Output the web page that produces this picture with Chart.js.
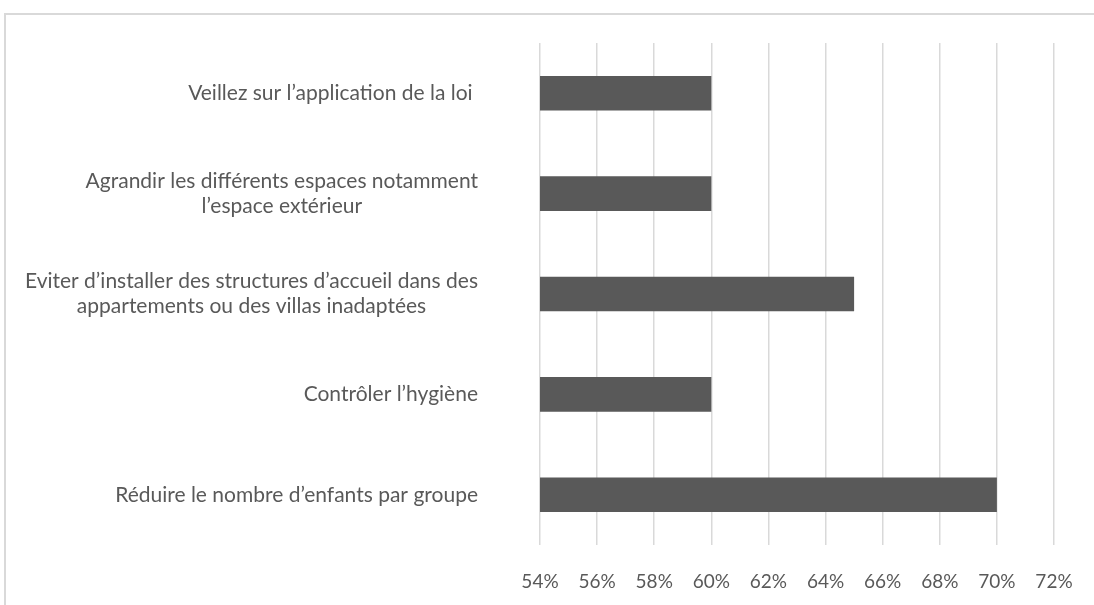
<!DOCTYPE html>
<html>
<head>
<meta charset="utf-8">
<script src="https://cdn.jsdelivr.net/npm/chart.js@4/dist/chart.umd.min.js"></script>
<style>
  html, body { margin: 0; padding: 0; background: #ffffff; }
  #wrap { position: relative; width: 1094px; height: 605px; overflow: hidden; }
  #frame {
    position: absolute; left: 4px; top: 13px; width: 1200px; height: 700px;
    border-top: 2px solid #d9d9d9; border-left: 2px solid #d9d9d9;
  }
  #chart { position: absolute; left: 0; top: 0; }
</style>
</head>
<body>
<div id="wrap">
  <div id="frame"></div>
  <canvas id="chart" width="1094" height="605"></canvas>
</div>
<script>
// category labels, already split into the lines they are shown on
const categories = [
    ["Veillez sur l’application de la loi "],
    ["Agrandir les différents espaces notamment", "l’espace extérieur"],
    ["Eviter d’installer des structures d’accueil dans des", "appartements ou des villas inadaptées"],
    ["Contrôler l’hygiène"],
    ["Réduire le nombre d’enfants par groupe"]
];
const values = [60, 60, 65, 60, 70];
const axisMin = 54;
const axisMax = 72;
const axisStep = 2;

const textColor = "#595959";
const labelFont = "21px Lato";

// y labels: each block sits right-aligned, lines centred inside the block
const categoryLabels = {
    id: "categoryLabels",
    afterDraw(chart) {
        const ctx = chart.ctx;
        const yScale = chart.scales.y;
        const lineHeight = 25;
        const rightEdge = yScale.right - 62;

        ctx.save();
        ctx.font = labelFont;
        ctx.fillStyle = textColor;
        ctx.textAlign = "center";
        ctx.textBaseline = "middle";

        categories.forEach((lines, i) => {
            const y = yScale.getPixelForTick(i);
            const blockW = Math.max(...lines.map(l => ctx.measureText(l).width));
            const cx = rightEdge - blockW / 2;
            const y0 = y - (lines.length - 1) * lineHeight / 2;
            lines.forEach((line, j) => ctx.fillText(line, cx, y0 + j * lineHeight));
        });
        ctx.restore();
    }
};

new Chart(document.getElementById("chart").getContext("2d"), {
    type: "bar",
    data: {
        labels: categories,
        datasets: [{
            data: values,
            backgroundColor: "#595959",
            borderWidth: 0,
            barPercentage: 0.345,
            categoryPercentage: 1
        }]
    },
    options: {
        indexAxis: "y",
        responsive: false,
        animation: false,
        layout: {
            padding: { top: 43, right: 40, bottom: 0, left: 0 }
        },
        scales: {
            x: {
                min: axisMin,
                max: axisMax,
                border: { display: false },
                grid: {
                    color: "#d9d9d9",
                    lineWidth: 1.5,
                    drawTicks: false
                },
                ticks: {
                    stepSize: axisStep,
                    padding: 25,
                    color: textColor,
                    font: { family: "Lato", size: 19 },
                    callback: v => v + "%"
                },
                afterFit(scale) {
                    // plot area edges come from the layout padding only
                    scale.height = 60;
                    scale.paddingLeft = 0;
                    scale.paddingRight = 0;
                }
            },
            y: {
                border: { display: false },
                grid: { display: false },
                ticks: { display: false },
                afterFit(scale) {
                    scale.width = 540;
                }
            }
        },
        plugins: {
            legend: { display: false },
            tooltip: { enabled: false }
        }
    },
    plugins: [categoryLabels]
});
</script>
</body>
</html>
